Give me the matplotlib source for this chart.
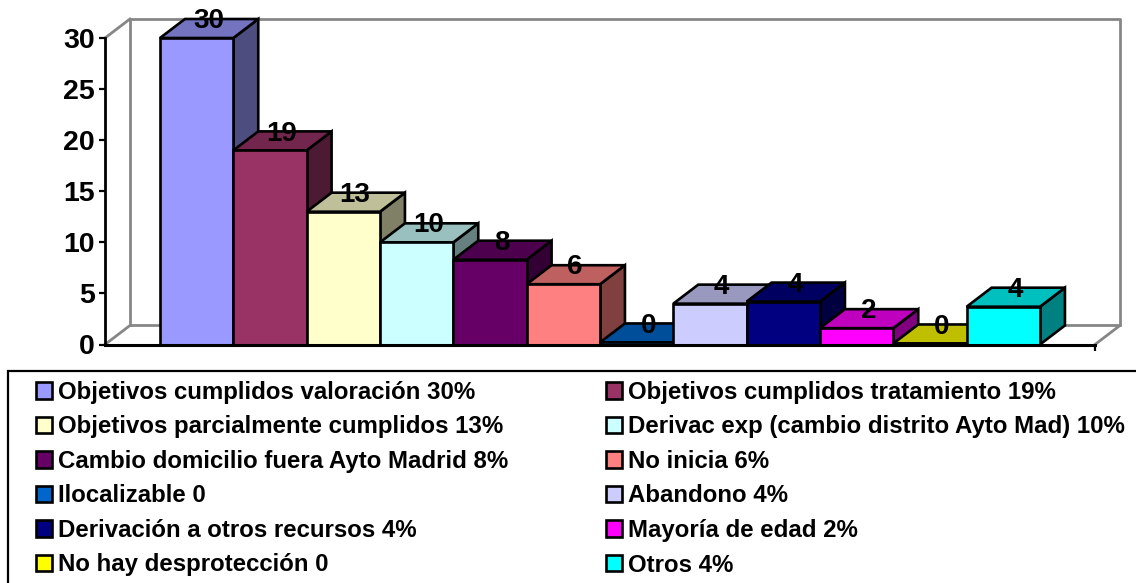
import matplotlib
matplotlib.use("Agg")
import matplotlib.pyplot as plt
from matplotlib.patches import Patch, Polygon, Rectangle

labels = ["Objetivos cumplidos valoración 30%", "Objetivos cumplidos tratamiento 19%",
          "Objetivos parcialmente cumplidos 13%", "Derivac exp (cambio distrito Ayto Mad) 10%",
          "Cambio domicilio fuera Ayto Madrid 8%", "No inicia 6%",
          "Ilocalizable 0", "Abandono 4%",
          "Derivación a otros recursos 4%", "Mayoría de edad 2%",
          "No hay desprotección 0", "Otros 4%"]
values = [30, 19, 13, 10, 8.3, 5.9, 0.2, 4, 4.2, 1.6, 0.1, 3.7]
value_labels = ["30", "19", "13", "10", "8", "6", "0", "4", "4", "2", "0", "4"]
front_colors = ["#9999ff", "#993366", "#ffffcc", "#ccffff", "#660066", "#ff8080",
                "#0066cc", "#ccccff", "#000080", "#ff00ff", "#ffff00", "#00ffff"]
top_colors = ["#7373bf", "#73264d", "#bfbf99", "#99bfbf", "#4d004d", "#bf6060",
              "#004d99", "#9999bf", "#000060", "#bf00bf", "#bfbf00", "#00bfbf"]
side_colors = ["#4d4d80", "#4d1a33", "#808066", "#668080", "#330033", "#804040",
               "#003366", "#666680", "#000040", "#800080", "#808000", "#008080"]
yticks = [0, 5, 10, 15, 20, 25, 30]

W, H = 1136, 583
DEPTH_X = 0.34
DEPTH_Y = 1.86

plt.rcParams["font.family"] = ["Liberation Sans", "DejaVu Sans"]
plt.rcParams["font.weight"] = "bold"

fig = plt.figure(figsize=(W / 100, H / 100), dpi=100)
ax = fig.add_axes([105 / W, 1 - 344.5 / H, 990 / W, 306.5 / H])
ax.set_xlim(-0.75, 12.75)
ax.set_ylim(0, 30)
ax.patch.set_alpha(0)

# back wall and floor
x0, x1 = -0.75, 12.75
top = 30
wall = "#868686"
ax.plot([x0 + DEPTH_X, x0 + DEPTH_X, x1 + DEPTH_X, x1 + DEPTH_X],
        [DEPTH_Y, top + DEPTH_Y, top + DEPTH_Y, DEPTH_Y], color=wall, lw=2, clip_on=False, zorder=1)
ax.plot([x0, x0 + DEPTH_X, x1 + DEPTH_X, x1],
        [0, DEPTH_Y, DEPTH_Y, 0], color=wall, lw=2, clip_on=False, zorder=1)
ax.plot([x0, x0 + DEPTH_X], [top, top + DEPTH_Y], color=wall, lw=2, clip_on=False, zorder=1)

# bars, left to right, so each one covers the side of the previous
for i, v in enumerate(values):
    l, r = i, i + 1
    z = 2 + i * 0.1
    ax.add_patch(Polygon([(r, 0), (r + DEPTH_X, DEPTH_Y), (r + DEPTH_X, v + DEPTH_Y), (r, v)],
                         fc=side_colors[i], ec="black", lw=1.9, clip_on=False, zorder=z))
    ax.add_patch(Polygon([(l, v), (l + DEPTH_X, v + DEPTH_Y), (r + DEPTH_X, v + DEPTH_Y), (r, v)],
                         fc=top_colors[i], ec="black", lw=1.9, clip_on=False, zorder=z))
    ax.bar(l, v, width=1, align="edge", color=front_colors[i], edgecolor="black", lw=1.9,
           clip_on=False, zorder=z)

for i, v in enumerate(values):
    ax.text(i + 0.66, v + 1.65, value_labels[i], ha="center", va="center", fontsize=20,
            fontweight="bold", color="black", clip_on=False, zorder=5)

for s in ["top", "right"]:
    ax.spines[s].set_visible(False)
ax.spines["left"].set_linewidth(2)
ax.spines["bottom"].set_linewidth(2.2)
ax.spines["left"].set_zorder(6)
ax.spines["bottom"].set_zorder(6)
ax.set_xticks([x1])
ax.set_xticklabels([""])
ax.set_yticks(yticks)
ax.tick_params(axis="y", labelsize=20.5, width=1.6, length=4, pad=3.5)
ax.tick_params(axis="x", width=1.6, length=4)

# legend border only shows on top and left, the rest runs off the picture
fig.add_artist(Rectangle((8 / W, -0.05), 1.1, 1 - 371 / H + 0.05, transform=fig.transFigure,
                         fc="white", ec="black", lw=1.6, zorder=0))

# legend fills column by column, reorder so rows read across
order = list(range(0, 12, 2)) + list(range(1, 12, 2))
handles = [Patch(fc=front_colors[i], ec="black", lw=1.9, label=labels[i]) for i in order]
leg = fig.legend(handles=handles, ncol=2, loc="upper left",
                 bbox_to_anchor=(36 / W, 1 - 381 / H), borderaxespad=0,
                 fontsize=17.25, frameon=False,
                 handlelength=0.67, handleheight=0.67, handletextpad=0.25,
                 labelspacing=0.48, columnspacing=4.07, borderpad=0)

fig.savefig("out.png", dpi=100)
